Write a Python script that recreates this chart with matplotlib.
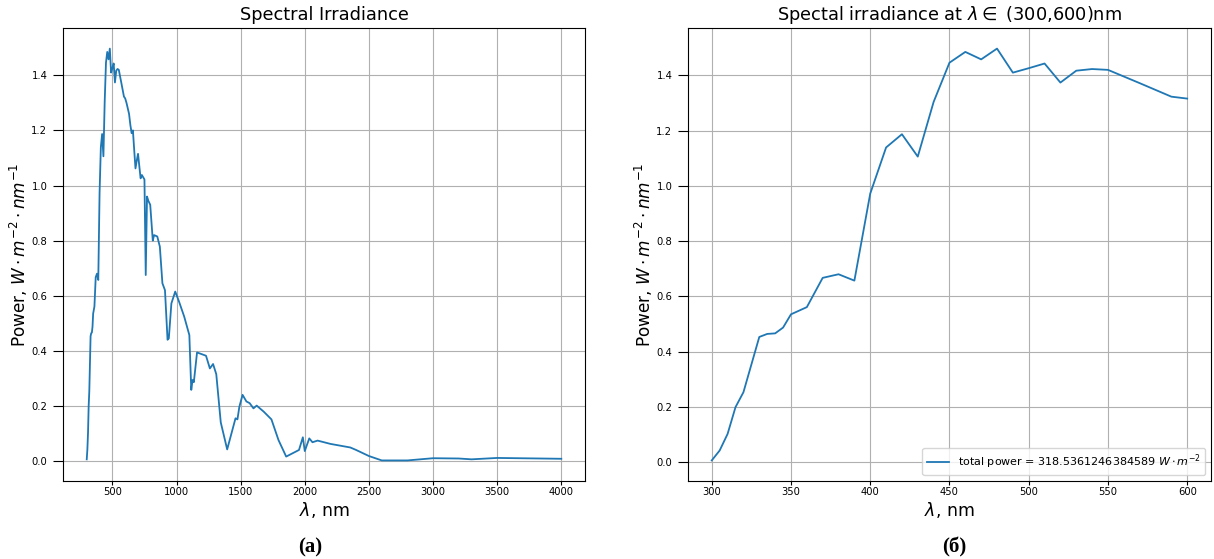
import numpy as np
import matplotlib
matplotlib.use("Agg")
from matplotlib import pyplot as plt

# spectral irradiance, wavelength in nm, power in W m^-2 nm^-1
wl = [300, 305, 310, 315, 320, 325, 330, 335, 340, 345, 350, 360, 370, 380, 390,
      400, 410, 420, 430, 440, 450, 460, 470, 480, 490, 500, 510, 520, 530, 540,
      550, 570, 590, 600,
      610, 620, 630, 640, 650, 660, 670, 680, 690, 700, 710, 720, 730, 740, 750,
      760, 770, 780, 795, 815, 825, 850, 870, 890, 910, 930, 940, 960, 990,
      1020, 1060, 1100, 1115, 1125, 1135, 1160, 1230, 1260, 1285, 1310, 1345,
      1395, 1460, 1475, 1490, 1515, 1545, 1570, 1600, 1625, 1680, 1740, 1795,
      1855, 1955, 1985, 2000, 2035, 2060, 2100, 2200, 2355, 2400, 2500, 2600,
      2800, 3000, 3200, 3300, 3500, 4000]
power = [0.006, 0.042, 0.102, 0.199, 0.253, 0.353, 0.453, 0.464, 0.466, 0.487,
         0.535, 0.561, 0.667, 0.680, 0.657,
         0.972, 1.139, 1.187, 1.106, 1.304, 1.446, 1.485, 1.458, 1.497, 1.410,
         1.426, 1.443, 1.374, 1.417, 1.423,
         1.420, 1.372, 1.323, 1.316,
         1.300, 1.280, 1.260, 1.220, 1.190, 1.200, 1.130, 1.062, 1.090, 1.115,
         1.070, 1.026, 1.038, 1.030, 1.022,
         0.675, 0.960, 0.945, 0.930, 0.800, 0.820, 0.815, 0.778, 0.645, 0.620,
         0.440, 0.445, 0.572, 0.615,
         0.578, 0.524, 0.457, 0.258, 0.294, 0.286, 0.394, 0.382, 0.336, 0.352,
         0.315, 0.140,
         0.042, 0.155, 0.151, 0.197, 0.240, 0.216, 0.210, 0.191, 0.201, 0.179,
         0.151, 0.076,
         0.016, 0.040, 0.086, 0.036, 0.082, 0.068, 0.074, 0.062, 0.049, 0.040,
         0.018, 0.002,
         0.002, 0.010, 0.009, 0.006, 0.011, 0.008]

total_power = "318.5361246384589"

wl = np.array(wl)
power = np.array(power)
sel = (wl >= 300) & (wl <= 600)

fig = plt.figure(figsize=(12.14, 5.59), dpi=100)
ax1 = fig.add_axes([0.0519, 0.1395, 0.430, 0.8104])
ax2 = fig.add_axes([0.5667, 0.1395, 0.4308, 0.8104])

ylab = r'Power, $W \cdot m^{-2} \cdot nm^{-1}$'

ax1.plot(wl, power, color='#1f77b4', lw=1.3)
ax1.set_title('Spectral Irradiance', fontsize=12.8)
ax1.set_xlabel(r'$\lambda$, nm', fontsize=12.5, labelpad=2)
ax1.set_ylabel(ylab, fontsize=12.2, labelpad=1)
ax1.set_xticks([500, 1000, 1500, 2000, 2500, 3000, 3500, 4000])

ax2.plot(wl[sel], power[sel], color='#1f77b4', lw=1.3,
         label=r'total power = ' + total_power + r' $W \cdot m^{-2}$')
ax2.set_title(r'Spectal irradiance at $\lambda \in$ (300,600)nm', fontsize=12.8)
ax2.set_xlabel(r'$\lambda$, nm', fontsize=12.5, labelpad=2)
ax2.set_ylabel(ylab, fontsize=12.2, labelpad=1)
ax2.legend(loc='lower right', fontsize=8)

for ax in (ax1, ax2):
    ax.grid(True, color='#b0b0b0', lw=0.8)
    ax.set_yticks([0.0, 0.2, 0.4, 0.6, 0.8, 1.0, 1.2, 1.4])
    ax.tick_params(labelsize=7.2)
    ax.tick_params(axis='x', length=3, pad=1.5)
    ax.tick_params(axis='y', length=7, pad=4.3)

fig.text(310 / 1214, 0.021, '(a)', ha='center', va='center',
         fontsize=15, fontweight='bold', family='Liberation Serif')
fig.text(954 / 1214, 0.021, '(б)', ha='center', va='center',
         fontsize=15, fontweight='bold', family='Liberation Serif')

fig.savefig('out.png', dpi=100)
